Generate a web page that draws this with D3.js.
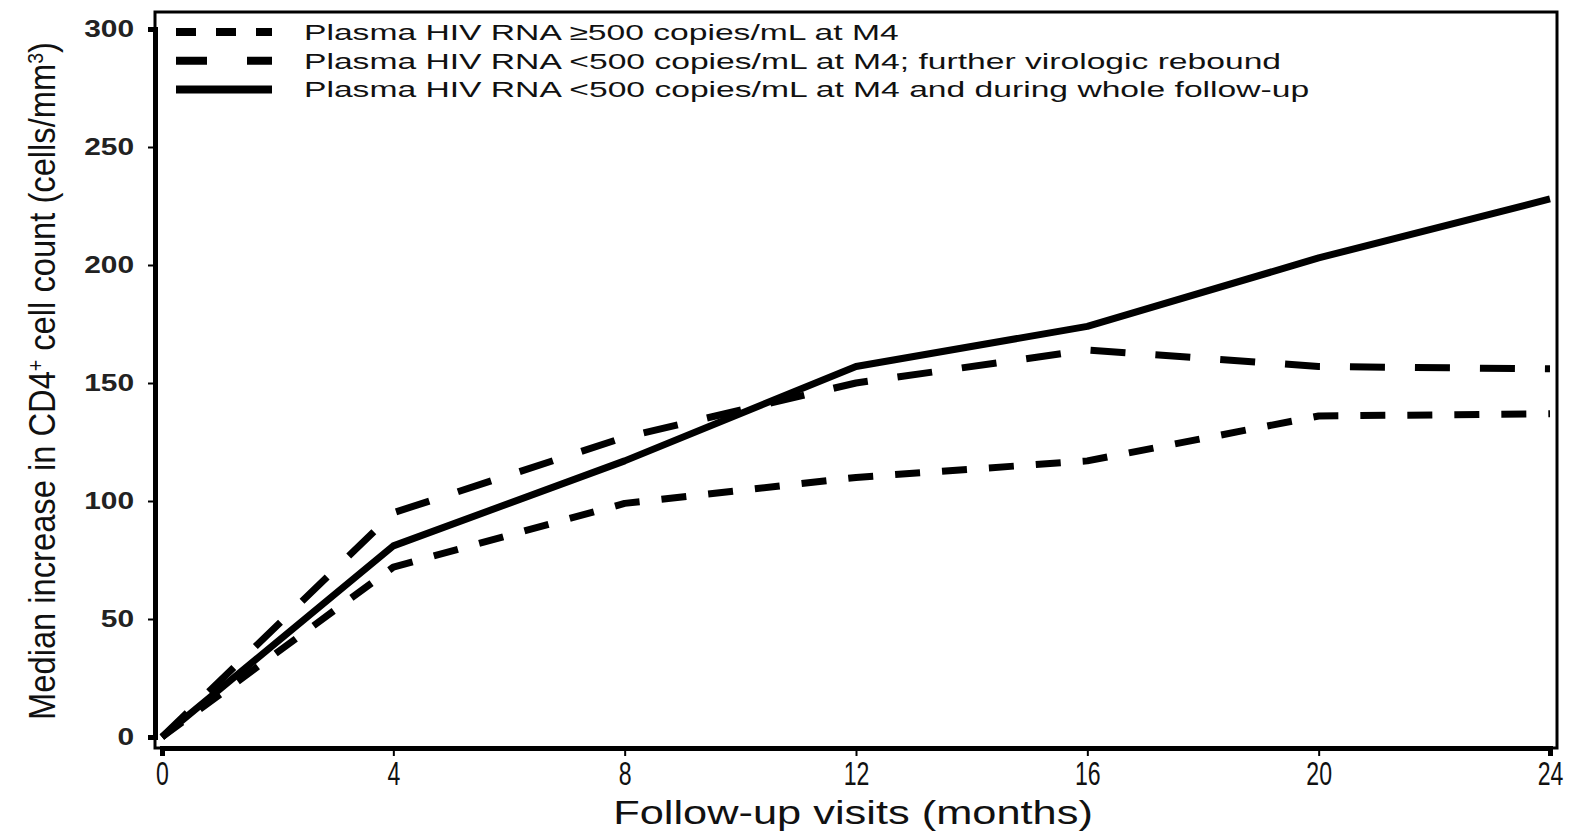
<!DOCTYPE html>
<html>
<head>
<meta charset="utf-8">
<script src="https://cdn.jsdelivr.net/npm/d3@7"></script>
<style>
  body { margin: 0; background: #fff; }
  svg { display: block; }
</style>
</head>
<body>
<div id="chart"></div>
<script>
// data
const months = [0, 4, 8, 12, 16, 20, 24];
const above500 = [0, 72, 99, 110, 117, 136, 137];
const reboundSeries = [0, 95, 127, 150, 164, 157, 156];
const sustainedSeries = [0, 81, 117, 157, 174, 203, 228];
const legendLabels = [
	'Plasma HIV RNA \u2265500 copies/mL at M4',
	'Plasma HIV RNA <500 copies/mL at M4; further virologic rebound',
	'Plasma HIV RNA <500 copies/mL at M4 and during whole follow-up'
];
const yTicks = [0, 50, 100, 150, 200, 250, 300];
const xTicks = [0, 4, 8, 12, 16, 20, 24];

const series = [
	{ name: legendLabels[0], values: above500, dash: '25,22', legendDash: '20,20' },
	{ name: legendLabels[1], values: reboundSeries, dash: '35,30', legendDash: '31,40' },
	{ name: legendLabels[2], values: sustainedSeries, dash: null, legendDash: null }
];

var width = 1574, height = 834;
var frame = { left: 155, top: 12, right: 1557, bottom: 748 };

var svg = d3
	.select('#chart')
	.append('svg')
	.attr('width', width)
	.attr('height', height);

var x = d3.scaleLinear().domain([0, 24]).range([162, 1550]);
var y = d3.scaleLinear().domain([0, 300]).range([737, 29]);

// frame
svg
	.append('rect')
	.attr('x', frame.left)
	.attr('y', frame.top)
	.attr('width', frame.right - frame.left)
	.attr('height', frame.bottom - frame.top)
	.attr('fill', 'none')
	.attr('stroke', '#000')
	.attr('stroke-width', 3);

// y axis
var yAxis = svg
	.append('g')
	.attr('transform', 'translate(' + frame.left + ',0)')
	.call(d3.axisLeft(y).tickValues(yTicks).tickSize(7).tickPadding(14));
yAxis.select('.domain').attr('stroke-width', 5);
yAxis.selectAll('.tick line').attr('stroke-width', 2);
var ySx = 1.3;
yAxis
	.selectAll('.tick text')
	.style('font-family', '"Liberation Sans", Arial, sans-serif')
	.style('font-weight', 'bold')
	.style('font-size', '23px')
	.attr('fill', '#222')
	.attr('x', -21 / ySx)
	.attr('transform', 'scale(' + ySx + ',1)');

// x axis
var xAxis = svg
	.append('g')
	.attr('transform', 'translate(0,' + frame.bottom + ')')
	.call(d3.axisBottom(x).tickValues(xTicks).tickSize(8).tickPadding(6));
xAxis.select('.domain').attr('stroke-width', 5);
xAxis.selectAll('.tick line').attr('stroke-width', 2);
xAxis
	.selectAll('.tick text')
	.style('font-family', '"Liberation Sans", Arial, sans-serif')
	.style('font-size', '33px')
	.attr('fill', '#111')
	.attr('transform', 'scale(0.7,1)');

// lines
var line = d3
	.line()
	.x(function (d, i) { return x(months[i]); })
	.y(function (d) { return y(d); });

svg
	.selectAll('.series')
	.data(series)
	.enter()
	.append('path')
	.attr('class', 'series')
	.attr('d', function (d) { return line(d.values); })
	.attr('fill', 'none')
	.attr('stroke', '#000')
	.attr('stroke-width', 7)
	.attr('stroke-linejoin', 'round')
	.attr('stroke-dasharray', function (d) { return d.dash; });

// legend
var legend = svg.append('g');
var rows = legend
	.selectAll('g')
	.data(series)
	.enter()
	.append('g')
	.attr('transform', function (d, i) { return 'translate(176,' + (32 + i * 28.7) + ')'; });

rows
	.append('line')
	.attr('x1', 0)
	.attr('x2', 96)
	.attr('stroke', '#000')
	.attr('stroke-width', 8)
	.attr('stroke-dasharray', function (d) { return d.legendDash; });

var legendText = rows
	.append('text')
	.attr('x', 0)
	.attr('dy', '0.36em')
	.style('font-family', '"Liberation Sans", Arial, sans-serif')
	.style('font-size', '22px')
	.attr('fill', '#111')
	.text(function (d) { return d.name; });

// stretch legend text to the width seen in the reference
var natural = legendText.nodes()[0].getComputedTextLength();
var sx = 595 / natural;
legendText.attr('transform', 'translate(128,0) scale(' + sx + ',1)');

// x title
var xTitle = svg
	.append('text')
	.attr('text-anchor', 'middle')
	.style('font-family', '"Liberation Sans", Arial, sans-serif')
	.style('font-size', '34px')
	.attr('fill', '#111')
	.text('Follow-up visits (months)');
var xw = xTitle.node().getComputedTextLength();
xTitle.attr('transform', 'translate(853,824) scale(' + 480 / xw + ',1)');

// y title
var yTitle = svg
	.append('text')
	.attr('text-anchor', 'middle')
	.style('font-family', '"Liberation Sans", Arial, sans-serif')
	.style('font-size', '37px')
	.attr('fill', '#111');
yTitle.append('tspan').text('Median increase in CD4');
yTitle.append('tspan').attr('baseline-shift', 'super').style('font-size', '22px').text('+');
yTitle.append('tspan').text(' cell count (cells/mm');
yTitle.append('tspan').attr('baseline-shift', 'super').style('font-size', '22px').text('3');
yTitle.append('tspan').text(')');
var yw = yTitle.node().getComputedTextLength();
yTitle.attr('transform', 'translate(55,381) rotate(-90) scale(' + 678 / yw + ',1)');
</script>
</body>
</html>
